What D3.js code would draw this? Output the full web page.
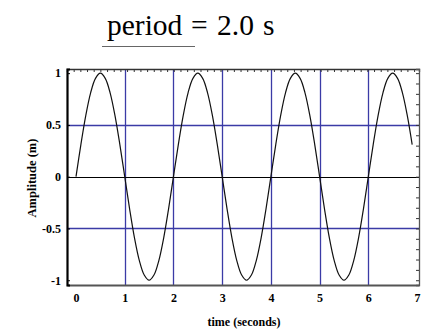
<!DOCTYPE html>
<html>
<head>
<meta charset="utf-8">
<script src="https://cdn.jsdelivr.net/npm/d3@7"></script>
<style>
  body { margin: 0; background: #fff; }
  svg { display: block; }
</style>
</head>
<body>
<div id="chart"></div>
<script>
// curve samples (time in s, amplitude in m)
var times = [0.0, 0.1, 0.2, 0.3, 0.4, 0.5, 0.6, 0.7, 0.8, 0.9,
             1.0, 1.1, 1.2, 1.3, 1.4, 1.5, 1.6, 1.7, 1.8, 1.9,
             2.0, 2.1, 2.2, 2.3, 2.4, 2.5, 2.6, 2.7, 2.8, 2.9,
             3.0, 3.1, 3.2, 3.3, 3.4, 3.5, 3.6, 3.7, 3.8, 3.9,
             4.0, 4.1, 4.2, 4.3, 4.4, 4.5, 4.6, 4.7, 4.8, 4.9,
             5.0, 5.1, 5.2, 5.3, 5.4, 5.5, 5.6, 5.7, 5.8, 5.9,
             6.0, 6.1, 6.2, 6.3, 6.4, 6.5, 6.6, 6.7, 6.8, 6.9];
var amplitude = [0, 0.31, 0.59, 0.81, 0.95, 1, 0.95, 0.81, 0.59, 0.31,
                 0, -0.31, -0.59, -0.81, -0.95, -1, -0.95, -0.81, -0.59, -0.31,
                 0, 0.31, 0.59, 0.81, 0.95, 1, 0.95, 0.81, 0.59, 0.31,
                 0, -0.31, -0.59, -0.81, -0.95, -1, -0.95, -0.81, -0.59, -0.31,
                 0, 0.31, 0.59, 0.81, 0.95, 1, 0.95, 0.81, 0.59, 0.31,
                 0, -0.31, -0.59, -0.81, -0.95, -1, -0.95, -0.81, -0.59, -0.31,
                 0, 0.31, 0.59, 0.81, 0.95, 1, 0.95, 0.81, 0.59, 0.31];

var xTicks = [0, 1, 2, 3, 4, 5, 6, 7];
var xGrid = [1, 2, 3, 4, 5, 6];
var yTicks = [1, 0.5, 0, -0.5, -1];
var yTickLabels = ['1', '0.5', '0', '-0.5', '-1'];
var yGrid = [0.5, -0.5];

// title pieces, set like an equation
var titleParts = ['period', '=', '2.0', 's'];
var xLabel = 'time (seconds)';
var yLabel = 'Amplitude (m)';

var WIDTH = 424, HEIGHT = 331;
var GRID_COLOR = '#3b3ba6';
var SERIF = '"Liberation Serif", "Times New Roman", serif';

var svg = d3.select('#chart').append('svg')
    .attr('width', WIDTH)
    .attr('height', HEIGHT);

var x = d3.scaleLinear().domain([-0.185, 7.04]).range([67, 419]);
var y = d3.scaleLinear().domain([-1.046, 1.04]).range([285, 69]);

// title + the stray bar under it
var titlePos = [107, 191, 217, 263];
svg.append('text')
    .attr('y', 35)
    .attr('font-family', SERIF)
    .attr('font-size', 29.5)
    .attr('fill', '#000')
  .selectAll('tspan')
    .data(titleParts)
  .enter().append('tspan')
    .attr('x', function(d, i) { return titlePos[i]; })
    .text(function(d) { return d; });

svg.append('line')
    .attr('x1', 102).attr('x2', 195)
    .attr('y1', 46.5).attr('y2', 46.5)
    .attr('stroke', '#666')
    .attr('stroke-width', 1);

// grid
var grid = svg.append('g').attr('class', 'grid');

grid.selectAll('line.vgrid')
    .data(xGrid)
  .enter().append('line')
    .attr('class', 'vgrid')
    .attr('x1', function(d) { return Math.round(x(d)) + 0.5; })
    .attr('x2', function(d) { return Math.round(x(d)) + 0.5; })
    .attr('y1', y.range()[1])
    .attr('y2', y.range()[0])
    .attr('stroke', GRID_COLOR)
    .attr('stroke-width', 1.3);

grid.selectAll('line.hgrid')
    .data(yGrid)
  .enter().append('line')
    .attr('class', 'hgrid')
    .attr('x1', x.range()[0])
    .attr('x2', x.range()[1])
    .attr('y1', function(d) { return Math.round(y(d)) + 0.5; })
    .attr('y2', function(d) { return Math.round(y(d)) + 0.5; })
    .attr('stroke', GRID_COLOR)
    .attr('stroke-width', 1.3);

// zero line
grid.append('line')
    .attr('x1', x.range()[0])
    .attr('x2', x.range()[1])
    .attr('y1', Math.round(y(0)) + 0.5)
    .attr('y2', Math.round(y(0)) + 0.5)
    .attr('stroke', '#000')
    .attr('stroke-width', 1.2);

// frame: top and right with inward minor ticks
var frame = svg.append('g').attr('class', 'frame');

var topAxis = d3.axisTop(x)
    .tickValues(d3.range(-0.185, 7.04, 0.137))
    .tickSize(-3)
    .tickFormat('');
frame.append('g')
    .attr('transform', 'translate(0,' + y.range()[1] + ')')
    .call(topAxis)
    .call(function(g) {
        g.select('.domain').attr('stroke', '#333').attr('stroke-width', 1.3);
        g.selectAll('.tick line').attr('stroke', '#333');
    });

var rightAxis = d3.axisRight(y)
    .tickValues(d3.range(-1, 1.01, 0.1))
    .tickSize(-3)
    .tickFormat('');
frame.append('g')
    .attr('transform', 'translate(' + x.range()[1] + ',0)')
    .call(rightAxis)
    .call(function(g) {
        g.select('.domain').attr('stroke', '#555').attr('stroke-width', 1.3);
        g.selectAll('.tick line').attr('stroke', '#333');
    });

// bottom axis
var xAxis = d3.axisBottom(x)
    .tickValues(xTicks)
    .tickSize(0)
    .tickPadding(8)
    .tickFormat(d3.format('d'));
frame.append('g')
    .attr('transform', 'translate(0,' + y.range()[0] + ')')
    .call(xAxis)
    .call(function(g) {
        g.select('.domain').attr('stroke', '#555').attr('stroke-width', 2.2);
        g.selectAll('text')
            .attr('font-family', SERIF)
            .attr('font-weight', 'bold')
            .attr('font-size', 12)
            .attr('fill', '#000');
    });

// left axis
var yAxis = d3.axisLeft(y)
    .tickValues(yTicks)
    .tickSize(-3)
    .tickPadding(6)
    .tickFormat(function(d, i) { return yTickLabels[i]; });
frame.append('g')
    .attr('transform', 'translate(' + x.range()[0] + ',0)')
    .call(yAxis)
    .call(function(g) {
        g.select('.domain').attr('stroke', '#000').attr('stroke-width', 2.2);
        g.selectAll('.tick line').attr('stroke', '#000');
        g.selectAll('text')
            .attr('font-family', SERIF)
            .attr('font-weight', 'bold')
            .attr('font-size', 12)
            .attr('fill', '#000');
    });

// the wave
var wave = times.map(function(t, i) { return {t: t, a: amplitude[i]}; });

svg.append('path')
    .datum(wave)
    .attr('fill', 'none')
    .attr('stroke', '#111')
    .attr('stroke-width', 1.2)
    .attr('d', d3.line()
        .x(function(d) { return x(d.t); })
        .y(function(d) { return y(d.a); })
        .curve(d3.curveCatmullRom));

// axis titles
svg.append('text')
    .attr('x', 244)
    .attr('y', 326)
    .attr('text-anchor', 'middle')
    .attr('font-family', SERIF)
    .attr('font-weight', 'bold')
    .attr('font-size', 12)
    .text(xLabel);

svg.append('text')
    .attr('transform', 'translate(36,178) rotate(-90)')
    .attr('text-anchor', 'middle')
    .attr('font-family', SERIF)
    .attr('font-weight', 'bold')
    .attr('font-size', 12.5)
    .text(yLabel);
</script>
</body>
</html>
